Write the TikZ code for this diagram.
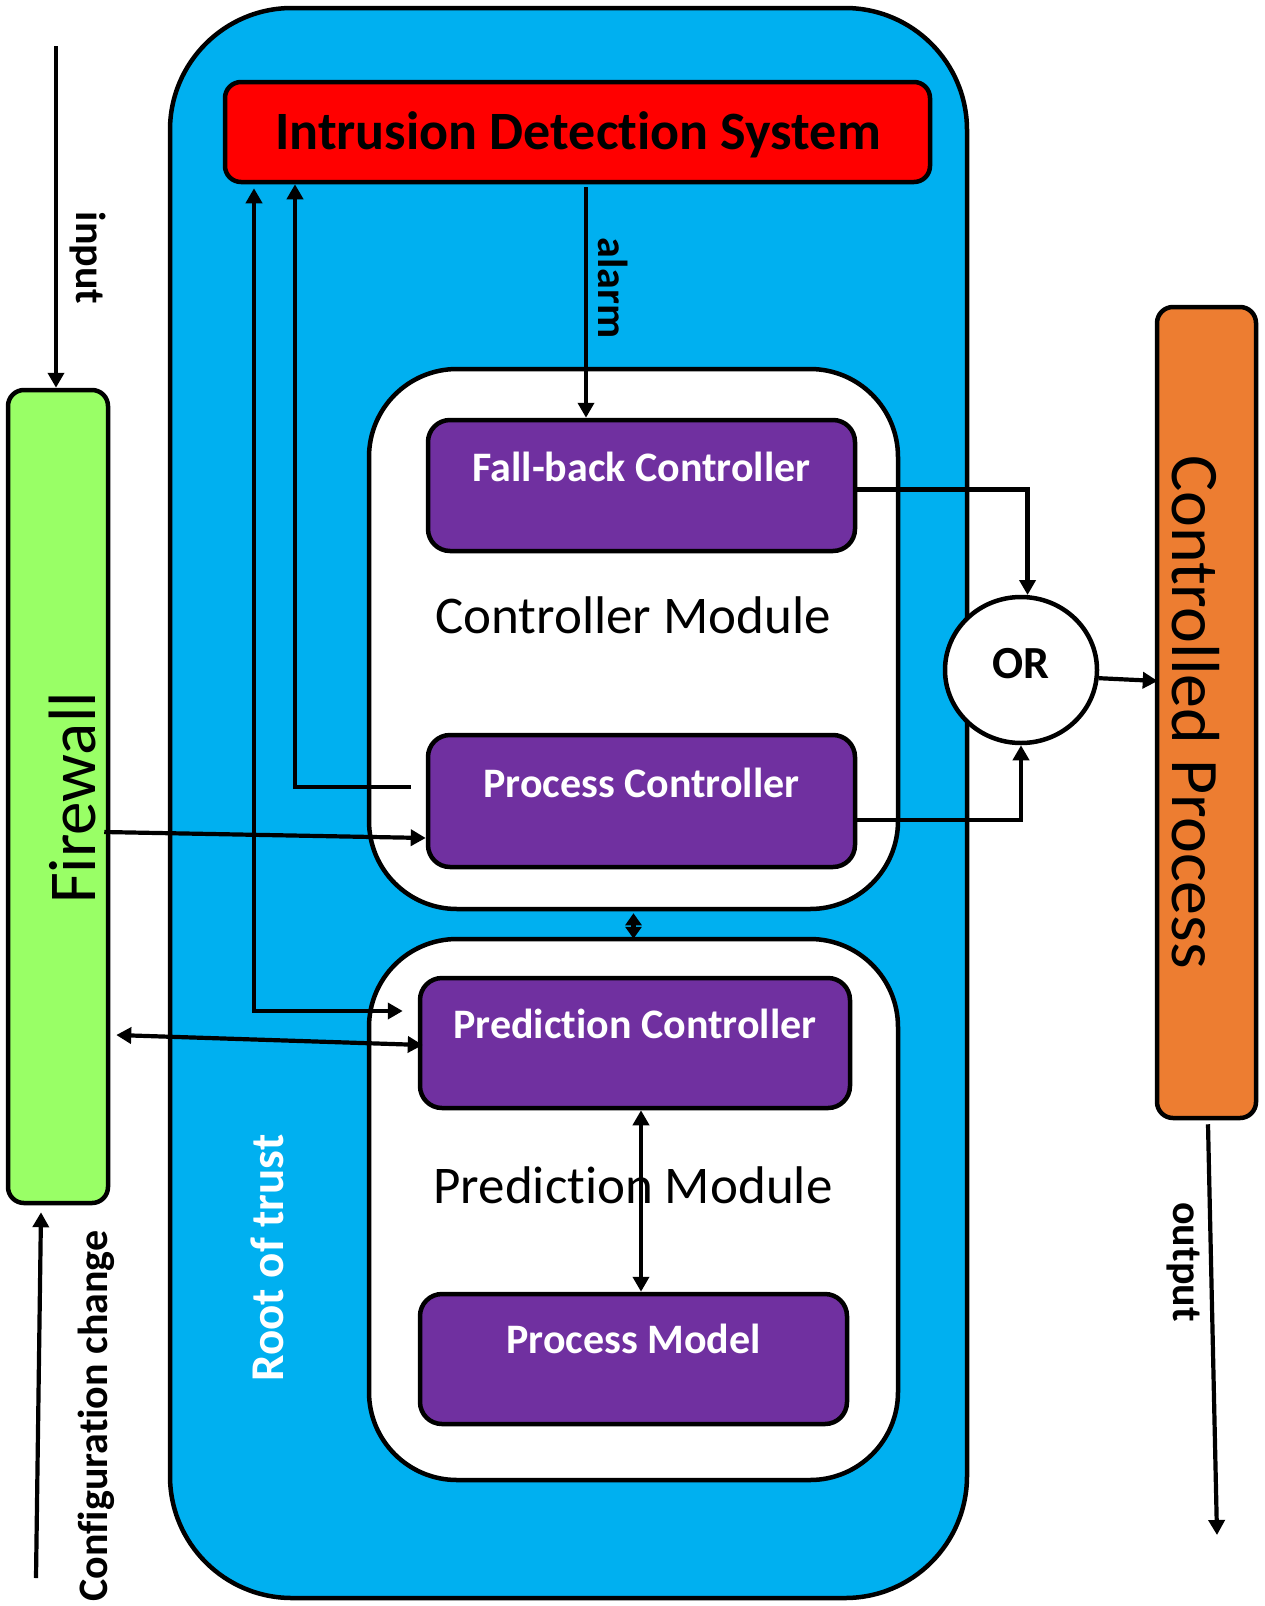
\documentclass[tikz,border=0pt]{standalone}
\usepackage{fontspec}
\setmainfont{Carlito}[Ligatures=NoCommon]
\usetikzlibrary{arrows.meta,shapes.geometric,calc}

\definecolor{rotblue}{HTML}{00B0F0}
\definecolor{idsred}{HTML}{FF0000}
\definecolor{fwgreen}{HTML}{99FF66}
\definecolor{cporange}{HTML}{ED7D31}
\definecolor{ctlpurple}{HTML}{7030A0}

\newcommand{\fsz}[1]{\fontsize{#1}{#1}\selectfont}

\tikzset{
  frame/.style={draw=black, line width=4.5pt, inner sep=0pt, rounded corners=16pt},
  modbox/.style={frame, fill=white, rounded corners=88pt, minimum width=529pt, minimum height=540pt},
  ctlbox/.style={frame, fill=ctlpurple, rounded corners=22pt, minimum height=130pt},
  ctltext/.style={inner sep=0pt, text=white, font=\fsz{42}\bfseries},
  modtext/.style={inner sep=0pt, font=\fsz{53}},
  sidelabel/.style={inner sep=0pt, font=\fsz{42}\bfseries},
  arr/.style={line width=4.2pt, -{Triangle[length=15pt,width=16pt]}},
  darr/.style={line width=4.2pt, {Triangle[length=15pt,width=16pt]}-{Triangle[length=15pt,width=16pt]}},
  shortdarr/.style={line width=4.2pt, {Triangle[length=12pt,width=16pt]}-{Triangle[length=12pt,width=16pt]}},
}

\begin{document}
\begin{tikzpicture}[x=1pt,y=-1pt]
\useasboundingbox (0,0) rectangle (1264,1606);

% root of trust enclosure
\node[frame, fill=rotblue, rounded corners=122pt, minimum width=797pt, minimum height=1590pt] (root) at (568.5,803) {};
\node[inner sep=0pt, text=white, font=\fsz{47}\bfseries, rotate=90] (roottext) at (267,1258) {Root of trust};

% intrusion detection system
\node[frame, fill=idsred, minimum width=705pt, minimum height=100pt] (ids) at (577.5,132) {};
\node[inner sep=0pt, font=\fsz{54}\bfseries] (idstext) at (578,135) {Intrusion Detection System};

% controller module
\node[modbox] (ctrlmod) at (633.5,639) {};
\node[modtext] (ctrlmodtext) at (633,615) {Controller Module};
\node[ctlbox, minimum width=427pt, minimum height=131pt] (fallback) at (641.5,485.5) {};
\node[ctltext] (fallbacktext) at (641.5,467) {Fall-back Controller};
\node[ctlbox, minimum width=427pt, minimum height=132pt] (pctrl) at (641.5,801) {};
\node[ctltext] (pctrltext) at (641.5,783) {Process Controller};

% prediction module
\node[modbox, minimum height=541pt] (predmod) at (633.5,1209.5) {};
\node[modtext] (predmodtext) at (633,1185) {Prediction Module};
\node[ctlbox, minimum width=430pt] (predc) at (635,1043) {};
\node[ctltext] (predctext) at (635,1024) {Prediction Controller};
\node[ctlbox, minimum width=427pt] (pmodel) at (633.5,1359) {};
\node[ctltext] (pmodeltext) at (633.5,1339) {Process Model};

% firewall and controlled process
\node[frame, fill=fwgreen, minimum width=100pt, minimum height=813pt] (firewall) at (58,796.5) {};
\node[inner sep=0pt, font=\fsz{67}, rotate=90] (fwtext) at (72.5,798) {Firewall};
\node[frame, fill=cporange, minimum width=99pt, minimum height=811pt] (cproc) at (1206.5,712.5) {};
\node[inner sep=0pt, font=\fsz{68}, rotate=-90] (cproctext) at (1196,712) {Controlled Process};

% OR gate
\node[frame, ellipse, fill=white, minimum width=152pt, minimum height=146pt] (or) at (1021,670) {};
\node[inner sep=0pt, font=\fsz{46}\bfseries] (ortext) at (1021,664) {OR};

% external signals
\coordinate (inA) at (56,46);
\draw[arr] (inA) -- (inA |- firewall.north);
\node[sidelabel, rotate=-90] (inputtext) at (88,258) {input};

\coordinate (cfA) at (36,1578);
\draw[arr] (cfA) -- ($(firewall.south)+(-17,7)$);
\node[sidelabel, rotate=90] (cftext) at (96.5,1416) {Configuration change};

\coordinate (outB) at (1217,1535);
\draw[arr] ($(cproc.south)+(1.5,4)$) -- (outB);
\node[sidelabel, rotate=-90] (outtext) at (1183,1262) {output};

% alarm
\coordinate (alx) at (586,0);
\draw[arr] ($(ids.south -| alx)+(0,3)$) -- (fallback.north -| alx);
\node[sidelabel, rotate=-90] (alarmtext) at (613,288) {alarm};

% controllers to the OR gate and on to the process
\draw[arr] ($(fallback.east)+(0,4)$) -| (or.85);
\draw[arr] ($(pctrl.east)+(0,19)$) -| (or.south);
\draw[arr] (or.-6) -- ($(cproc.west)+(3,-31.5)$);

% feedback to the intrusion detection system
\coordinate (px) at (295,0);
\draw[arr] ($(pctrl.west)+(-15,-14)$) -| (ids.south -| px);
\coordinate (qx) at (254,0);
\draw[darr] ($(ids.south -| qx)+(0,4)$) |- ($(predc.west)+(-15,-32)$);

% firewall links
\draw[arr] ($(firewall.east)+(-6,35.5)$) -- ($(pctrl.west)+(0,37)$);
\draw[darr] ($(firewall.east)+(6,238.5)$) -- ($(predc.west)+(5,2)$);

% module links
\draw[shortdarr] ($(ctrlmod.south)+(0,2)$) -- ($(predmod.north)+(0,2)$);
\coordinate (pmx) at (641,0);
\draw[darr] (predc.south -| pmx) -- (pmodel.north -| pmx);

\end{tikzpicture}
\end{document}
